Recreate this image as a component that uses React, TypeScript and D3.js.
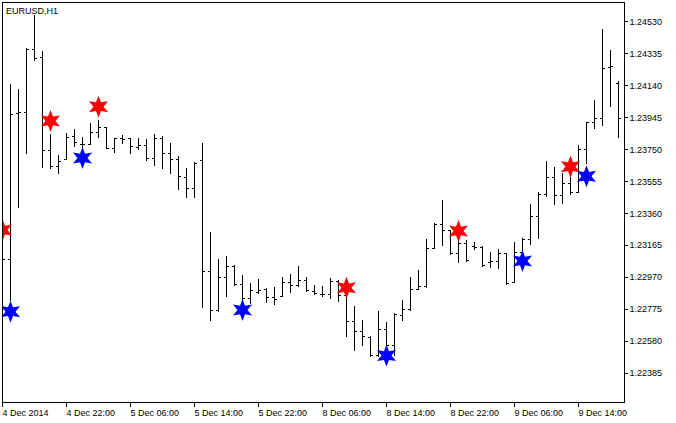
import React from 'react';
import * as d3 from 'd3';

// EURUSD H1 bars, 4 Dec 2014 14:00 .. 9 Dec 2014 19:00 (weekend skipped)
const opens = [
  1.23104, 1.23078, 1.23973, 1.23975, 1.24364, 1.24314, 1.23743, 1.23649, 1.23688, 1.23827,
  1.23779, 1.23779, 1.23854, 1.23885, 1.23757, 1.23818, 1.23816, 1.23763, 1.23773, 1.23694,
  1.23816, 1.23724, 1.23688, 1.23577, 1.23511, 1.23682, 1.23006, 1.22768, 1.22971, 1.23038,
  1.22925, 1.22840, 1.22880, 1.22894, 1.22849, 1.22852, 1.22941, 1.22921, 1.22953, 1.22881,
  1.22868, 1.22866, 1.22946, 1.22860, 1.22700, 1.22639, 1.22606, 1.22493, 1.22651, 1.22553,
  1.22740, 1.22772, 1.22894, 1.22915, 1.23145, 1.23293, 1.23256, 1.23114, 1.23175, 1.23160,
  1.23154, 1.23062, 1.23067, 1.23114, 1.22936, 1.23119, 1.23200, 1.23339, 1.23475, 1.23580,
  1.23470, 1.23546, 1.23486, 1.23751, 1.23914, 1.23940, 1.24253, 1.24152,
];
const highs = [
  1.23177, 1.24147, 1.24115, 1.24365, 1.24569, 1.24349, 1.23842, 1.23713, 1.23848, 1.23873,
  1.23826, 1.23908, 1.23928, 1.23887, 1.23816, 1.23836, 1.23818, 1.23816, 1.23812, 1.23840,
  1.23827, 1.23785, 1.23709, 1.23632, 1.23673, 1.23790, 1.23242, 1.23078, 1.23099, 1.23043,
  1.22982, 1.22931, 1.22955, 1.22901, 1.22908, 1.22968, 1.22988, 1.23037, 1.22969, 1.22919,
  1.22913, 1.22961, 1.22949, 1.22884, 1.22792, 1.22704, 1.22611, 1.22762, 1.22693, 1.22748,
  1.22829, 1.22968, 1.23012, 1.23200, 1.23297, 1.23439, 1.23259, 1.23201, 1.23195, 1.23185,
  1.23159, 1.23121, 1.23139, 1.23114, 1.23183, 1.23206, 1.23415, 1.23490, 1.23677, 1.23643,
  1.23602, 1.23580, 1.23773, 1.23917, 1.24050, 1.24481, 1.24355, 1.24167,
];
const lows = [
  1.23061, 1.22829, 1.23399, 1.23729, 1.24291, 1.23639, 1.23632, 1.23602, 1.23688, 1.23768,
  1.23765, 1.23779, 1.23826, 1.23755, 1.23734, 1.23789, 1.23724, 1.23752, 1.23684, 1.23650,
  1.23637, 1.23607, 1.23507, 1.23460, 1.23456, 1.22788, 1.22710, 1.22762, 1.22855, 1.22921,
  1.22838, 1.22813, 1.22873, 1.22814, 1.22803, 1.22852, 1.22877, 1.22912, 1.22886, 1.22866,
  1.22854, 1.22844, 1.22825, 1.22611, 1.22526, 1.22556, 1.22487, 1.22485, 1.22542, 1.22491,
  1.22705, 1.22770, 1.22894, 1.22910, 1.23145, 1.23162, 1.23110, 1.23063, 1.23068, 1.23143,
  1.23037, 1.23029, 1.23027, 1.22927, 1.22936, 1.23110, 1.23168, 1.23206, 1.23462, 1.23413,
  1.23419, 1.23477, 1.23486, 1.23665, 1.23877, 1.23897, 1.24015, 1.23822,
];
const closes = [
  1.23078, 1.23962, 1.23975, 1.24361, 1.24303, 1.23743, 1.23649, 1.23679, 1.23826, 1.23796,
  1.23781, 1.23854, 1.23885, 1.23757, 1.23816, 1.23810, 1.23767, 1.23775, 1.23693, 1.23818,
  1.23724, 1.23688, 1.23585, 1.23511, 1.23663, 1.23008, 1.22768, 1.22971, 1.23038, 1.22925,
  1.22840, 1.22890, 1.22892, 1.22849, 1.22836, 1.22941, 1.22923, 1.22953, 1.22890, 1.22870,
  1.22866, 1.22948, 1.22860, 1.22699, 1.22639, 1.22607, 1.22493, 1.22651, 1.22553, 1.22744,
  1.22773, 1.22894, 1.22916, 1.23145, 1.23293, 1.23256, 1.23114, 1.23175, 1.23073, 1.23153,
  1.23043, 1.23065, 1.23118, 1.22931, 1.23120, 1.23200, 1.23339, 1.23476, 1.23580, 1.23470,
  1.23546, 1.23486, 1.23751, 1.23914, 1.23940, 1.24248, 1.24257, 1.23938,
];

// signal stars: bar index + price
const redStarIdx = [0, 6, 12, 43, 57, 71];
const redStarPrice = [1.23256, 1.23922, 1.24009, 1.22904, 1.23250, 1.23643];
const blueStarIdx = [1, 10, 30, 48, 65, 73];
const blueStarPrice = [1.22758, 1.23696, 1.22768, 1.22490, 1.23067, 1.23584];

const priceTicks = ['1.24530', '1.24335', '1.24140', '1.23945', '1.23750', '1.23555', '1.23360', '1.23165', '1.22970', '1.22775', '1.22580', '1.22385'];
const timeLabels = ['4 Dec 2014', '4 Dec 22:00', '5 Dec 06:00', '5 Dec 14:00', '5 Dec 22:00', '8 Dec 06:00', '8 Dec 14:00', '8 Dec 22:00', '9 Dec 06:00', '9 Dec 14:00'];
const timeLabelIdx = [0, 8, 16, 24, 32, 40, 48, 56, 64, 72];

const W = 676;
const H = 423;
const L = 2, R = 624, T = 2, B = 402;

function starPath(r1: number, r2: number) {
  const pts = d3.range(12).map((k) => {
    const a = (-90 + k * 30) * Math.PI / 180;
    const r = k % 2 === 0 ? r1 : r2;
    return [r * Math.cos(a), r * Math.sin(a)] as [number, number];
  });
  return (d3.line()(pts) || '') + 'Z';
}

export default function App() {
  const x = d3.scaleLinear().domain([0, (R - L) / 8]).range([L, R]);
  const y = d3.scaleLinear().domain([1.222066, 1.246478]).range([B, T]);
  const star = starPath(11, 5);
  const font = 'Liberation Sans, Arial, sans-serif';

  return (
    <svg width={W} height={H} style={{ position: 'absolute', left: 0, top: 0, background: '#fff' }}>
      <defs>
        <clipPath id="plot">
          <rect x={L} y={T} width={R - L + 1} height={B - T + 1} />
        </clipPath>
      </defs>
      <rect x={0} y={0} width={W} height={H} fill="#fff" />
      <g clipPath="url(#plot)" shapeRendering="crispEdges" fill="#000">
        {opens.map((o, i) => {
          const px = Math.round(x(i));
          const yh = Math.round(y(highs[i]));
          const yl = Math.round(y(lows[i]));
          const yo = Math.round(y(o));
          const yc = Math.round(y(closes[i]));
          return (
            <g key={i}>
              <rect x={px} y={yh} width={1} height={yl - yh + 1} />
              <rect x={px - 2} y={yo} width={2} height={1} />
              <rect x={px + 1} y={yc} width={2} height={1} />
            </g>
          );
        })}
      </g>
      <g clipPath="url(#plot)">
        {redStarIdx.map((idx, k) => (
          <path key={'r' + k} d={star} fill="#ff0000" transform={`translate(${x(idx) + 0.5},${y(redStarPrice[k])})`} />
        ))}
        {blueStarIdx.map((idx, k) => (
          <path key={'b' + k} d={star} fill="#0000ff" transform={`translate(${x(idx) + 0.5},${y(blueStarPrice[k])})`} />
        ))}
      </g>
      <g shapeRendering="crispEdges" stroke="#000" fill="none">
        <rect x={L + 0.5} y={T + 0.5} width={R - L} height={B - T} />
        {priceTicks.map((t) => {
          const yy = Math.round(y(+t)) + 0.5;
          return <line key={t} x1={R} x2={R + 4} y1={yy} y2={yy} />;
        })}
        {timeLabelIdx.map((idx) => {
          const xx = Math.round(x(idx)) + 0.5;
          return <line key={idx} x1={xx} x2={xx} y1={B} y2={B + 5} />;
        })}
      </g>
      <g fontFamily={font} fontSize={9} fill="#000">
        <text x={6} y={13.5}>EURUSD,H1</text>
        {priceTicks.map((t) => (
          <text key={t} x={629.5} y={y(+t) + 3.5}>{t}</text>
        ))}
        {timeLabels.map((t, k) => (
          <text key={t} x={Math.round(x(timeLabelIdx[k])) + 0.5} y={415.5}>{t}</text>
        ))}
      </g>
    </svg>
  );
}
